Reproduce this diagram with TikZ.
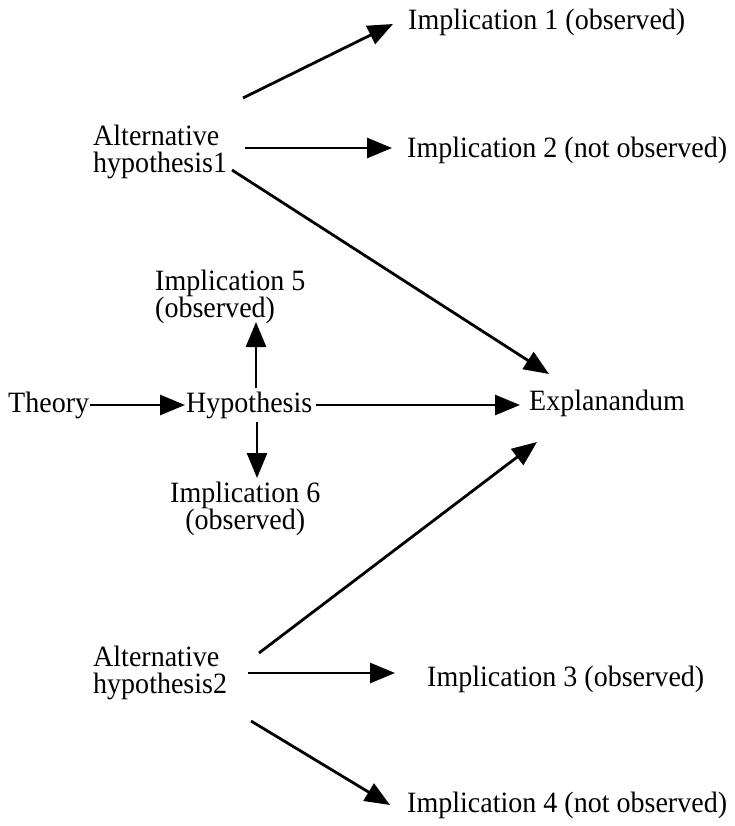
\documentclass[tikz,border=0pt]{standalone}
\usepackage{fontspec}
\setmainfont{Liberation Serif}[FakeStretch=0.95]
\usetikzlibrary{arrows.meta}
\begin{document}
\begin{tikzpicture}[x=1pt,y=-1pt,
  lbl/.style={inner sep=0pt,anchor=west,font=\fontsize{29.5}{27}\selectfont},
  arr/.style={line width=2.8pt,-{Triangle[length=25pt,width=20pt]}}]
\useasboundingbox (0,0) rectangle (734,826);
% nodes
\node[lbl] (imp1) at (408,22) {Implication 1 (observed)};
\node[lbl,align=left] (alt1) at (93,152) {Alternative\\hypothesis1};
\node[lbl] (imp2) at (407,150) {Implication 2 (not observed)};
\node[lbl,align=left] (imp5) at (155,297) {Implication 5\\(observed)};
\node[lbl] (theory) at (8,405) {Theory};
\node[lbl] (hyp) at (186,405) {Hypothesis};
\node[lbl] (expl) at (529,403) {Explanandum};
\node[lbl,align=center] (imp6) at (170,509) {Implication 6\\(observed)};
\node[lbl,align=left] (alt2) at (93,673) {Alternative\\hypothesis2};
\node[lbl] (imp3) at (427,679) {Implication 3 (observed)};
\node[lbl] (imp4) at (407,805) {Implication 4 (not observed)};
% connector ends
\coordinate (a1o1) at (243,98);   \coordinate (a1i1) at (393,24);
\coordinate (a1o2) at (245,148);  \coordinate (a1i2) at (392,148);
\coordinate (a1o3) at (232,170);  \coordinate (a1i3) at (549,374);
\coordinate (thO) at (90,405);    \coordinate (thI) at (185,405);
\coordinate (hyO) at (316,405);   \coordinate (hyI) at (520,405);
\coordinate (h5O) at (256,388);   \coordinate (h5I) at (256,322);
\coordinate (h6O) at (257,422);   \coordinate (h6I) at (257,478);
\coordinate (a2o1) at (259,653);  \coordinate (a2i1) at (537,442);
\coordinate (a2o2) at (248,673);  \coordinate (a2i2) at (395,673);
\coordinate (a2o3) at (251,721);  \coordinate (a2i3) at (390,805);
% connectors
\draw[arr] (a1o1) -- (a1i1);
\draw[arr] (a1o2) -- (a1i2);
\draw[arr] (a1o3) -- (a1i3);
\draw[arr] (thO) -- (thI);
\draw[arr] (hyO) -- (hyI);
\draw[arr] (h5O) -- (h5I);
\draw[arr] (h6O) -- (h6I);
\draw[arr] (a2o1) -- (a2i1);
\draw[arr] (a2o2) -- (a2i2);
\draw[arr] (a2o3) -- (a2i3);
\end{tikzpicture}
\end{document}
